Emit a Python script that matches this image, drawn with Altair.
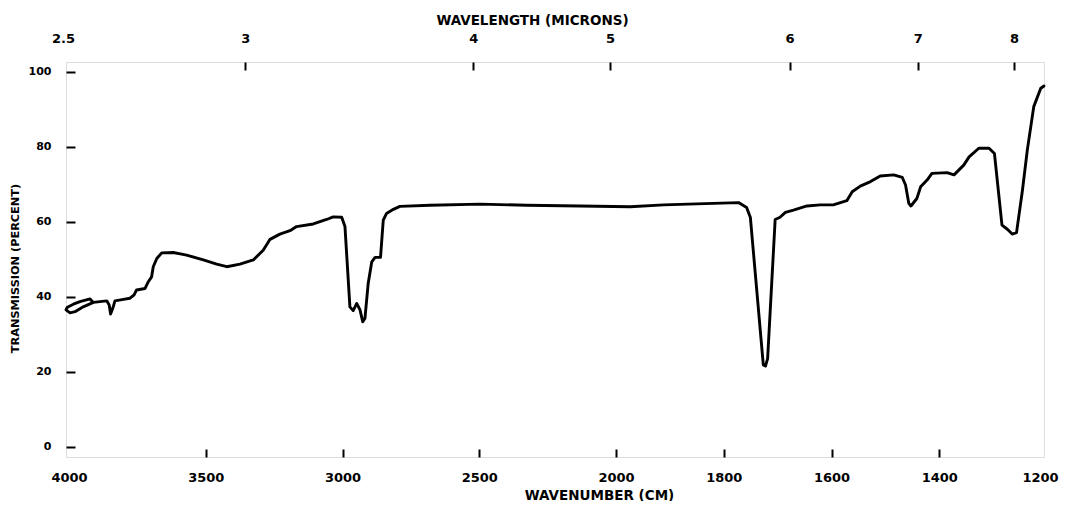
import altair as alt
import pandas as pd

# ---- spectrum trace (wavenumber cm-1, % transmission), in drawing order ----
wavenumber = [
    3902, 3912, 3949, 3973, 3995, 4000, 3985, 3967, 3937, 3900,
    3876, 3851, 3842, 3837, 3829, 3821, 3790, 3766, 3751, 3742,
    3711, 3699, 3687, 3681, 3668, 3650, 3608, 3559, 3498, 3449,
    3412, 3364, 3315, 3279, 3254, 3218, 3181, 3157, 3096, 3047,
    3023, 2992, 2980, 2962, 2950, 2937, 2925, 2915, 2907, 2895,
    2882, 2870, 2850, 2840, 2828, 2803, 2779, 2669, 2486, 2316,
    2121, 1968, 1906, 1814, 1767, 1752, 1745, 1721, 1717, 1713,
    1699, 1690, 1680, 1665, 1640, 1615, 1591, 1566, 1556, 1541,
    1522, 1504, 1479, 1463, 1457, 1451, 1447, 1436, 1429, 1417,
    1408, 1380, 1367, 1349, 1339, 1321, 1302, 1292, 1278, 1268,
    1259, 1251, 1240, 1231, 1219, 1206, 1200,
]
transmission = [
    38.6, 39.4, 38.7, 38.0, 37.2, 36.5, 35.7, 36.0, 37.3, 38.5,
    38.7, 38.9, 37.8, 35.4, 36.9, 38.9, 39.3, 39.6, 40.5, 41.8,
    42.2, 44.0, 45.3, 48.0, 50.2, 51.7, 51.8, 51.1, 49.8, 48.7,
    48.0, 48.7, 49.8, 52.4, 55.3, 56.7, 57.6, 58.7, 59.4, 60.6,
    61.3, 61.2, 58.7, 37.3, 36.3, 38.2, 36.5, 33.3, 34.2, 43.6,
    49.3, 50.5, 50.5, 60.4, 62.2, 63.3, 64.1, 64.4, 64.7, 64.4,
    64.2, 64.0, 64.5, 64.9, 65.1, 63.8, 61.1, 21.8, 21.5, 23.5,
    60.6, 61.2, 62.5, 63.1, 64.2, 64.5, 64.5, 65.6, 68.0, 69.5,
    70.7, 72.2, 72.5, 71.8, 69.8, 64.9, 64.2, 66.2, 69.3, 71.1,
    72.9, 73.1, 72.5, 75.1, 77.3, 79.6, 79.6, 78.2, 59.1, 58.0,
    56.7, 57.1, 68.4, 79.1, 90.7, 95.6, 96.2,
]
draw_order = list(range(len(wavenumber)))

# ---- axis tick definitions ----
wn_label_values = [4000, 3500, 3000, 2500, 2000, 1800, 1600, 1400, 1200]
wn_tick_values = [3500, 3000, 2500, 2000, 1800, 1600, 1400]
microns = [2.5, 3, 4, 5, 6, 7, 8]
micron_label_values = [10000 / m for m in microns]
micron_tick_values = [10000 / m for m in microns[1:]]
pct_values = [0, 20, 40, 60, 80, 100]

df = pd.DataFrame({"wn": wavenumber, "t": transmission, "i": draw_order})

FONT = "DejaVu Sans"
W, H = 978, 395

xscale = alt.Scale(domain=[4000, 2000, 1200], range=[0, 547, W], nice=False, zero=False)
yscale = alt.Scale(domain=[-2.75, 102.6], nice=False, zero=False)

LAB = dict(labelFont=FONT, labelFontWeight="bold", labelColor="black",
           titleFont=FONT, titleFontWeight="bold", titleColor="black")

# bottom: labels + title
ax_bottom = alt.Axis(
    orient="bottom", values=wn_label_values, format="d", ticks=False, tickSize=0,
    domain=False, grid=False, labelPadding=14, labelFontSize=13, labelFlush=False,
    labelOverlap=False, tickOffset=3,
    labelOffset={"condition": {"test": "datum.value == 1200", "value": -7}, "value": 0},
    title="WAVENUMBER (CM)", titleFontSize=13.5, titleX=533, titleY=38,
    titleAlign="center", titleBaseline="middle", **LAB,
)
# bottom: inward ticks
ax_bottom_ticks = alt.Axis(
    orient="bottom", values=wn_tick_values, labels=False, domain=False, grid=False,
    ticks=True, tickSize=8, tickWidth=2, tickColor="black", offset=-8, tickOffset=3,
    title=None,
)
# top: labels + title (microns)
ax_top = alt.Axis(
    orient="top", values=micron_label_values, ticks=False, tickSize=0,
    domain=False, grid=False, labelPadding=17, labelFontSize=13, labelFlush=False,
    labelOverlap=False, tickOffset=-3,
    labelExpr="format(10000 / datum.value, '.2~f')",
    title="WAVELENGTH (MICRONS)", titleFontSize=13.5, titleX=466, titleY=-42,
    titleAlign="center", titleBaseline="middle", **LAB,
)
ax_top_ticks = alt.Axis(
    orient="top", values=micron_tick_values, labels=False, domain=False, grid=False,
    ticks=True, tickSize=8, tickWidth=2, tickColor="black", offset=-8, tickOffset=-3,
    title=None,
)
# left: labels + title
ax_left = alt.Axis(
    orient="left", values=pct_values, ticks=False, tickSize=0, domain=False,
    grid=False, labelPadding=15, labelFontSize=11,
    title="TRANSMISSION (PERCENT)", titleFontSize=11.3, titleX=-51, titleY=206,
    titleAlign="center", titleBaseline="middle", titleAngle=270, **LAB,
)
ax_left_ticks = alt.Axis(
    orient="left", values=pct_values, labels=False, domain=False, grid=False,
    ticks=True, tickSize=9, tickWidth=2, tickColor="black", offset=-9, title=None,
)

base = alt.Chart(df)

spectrum = base.mark_line(color="black", strokeWidth=2.9, strokeJoin="round",
                          strokeCap="round").encode(
    x=alt.X("wn:Q", scale=xscale, axis=ax_bottom),
    y=alt.Y("t:Q", scale=yscale, axis=ax_left),
    order=alt.Order("i:Q"),
)
ticks_bl = base.mark_line(strokeOpacity=0).encode(
    x=alt.X("wn:Q", scale=xscale, axis=ax_bottom_ticks),
    y=alt.Y("t:Q", scale=yscale, axis=ax_left_ticks),
    order=alt.Order("i:Q"),
)
top_lab = base.mark_line(strokeOpacity=0).encode(
    x=alt.X("wn:Q", scale=xscale, axis=ax_top),
    y=alt.Y("t:Q", scale=yscale, axis=None),
    order=alt.Order("i:Q"),
)
top_ticks = base.mark_line(strokeOpacity=0).encode(
    x=alt.X("wn:Q", scale=xscale, axis=ax_top_ticks),
    y=alt.Y("t:Q", scale=yscale, axis=None),
    order=alt.Order("i:Q"),
)

chart = (
    alt.layer(spectrum, ticks_bl, top_lab, top_ticks)
    .resolve_axis(x="independent", y="independent")
    .properties(
        width=W, height=H,
        autosize=alt.AutoSizeParams(type="none"),
        padding={"left": 58, "top": 54, "right": 15, "bottom": 44},
    )
    .configure_view(stroke="black", strokeWidth=2)
    .configure(background="white")
)

chart.save("out.html", embed_options={"renderer": "svg", "actions": False})
